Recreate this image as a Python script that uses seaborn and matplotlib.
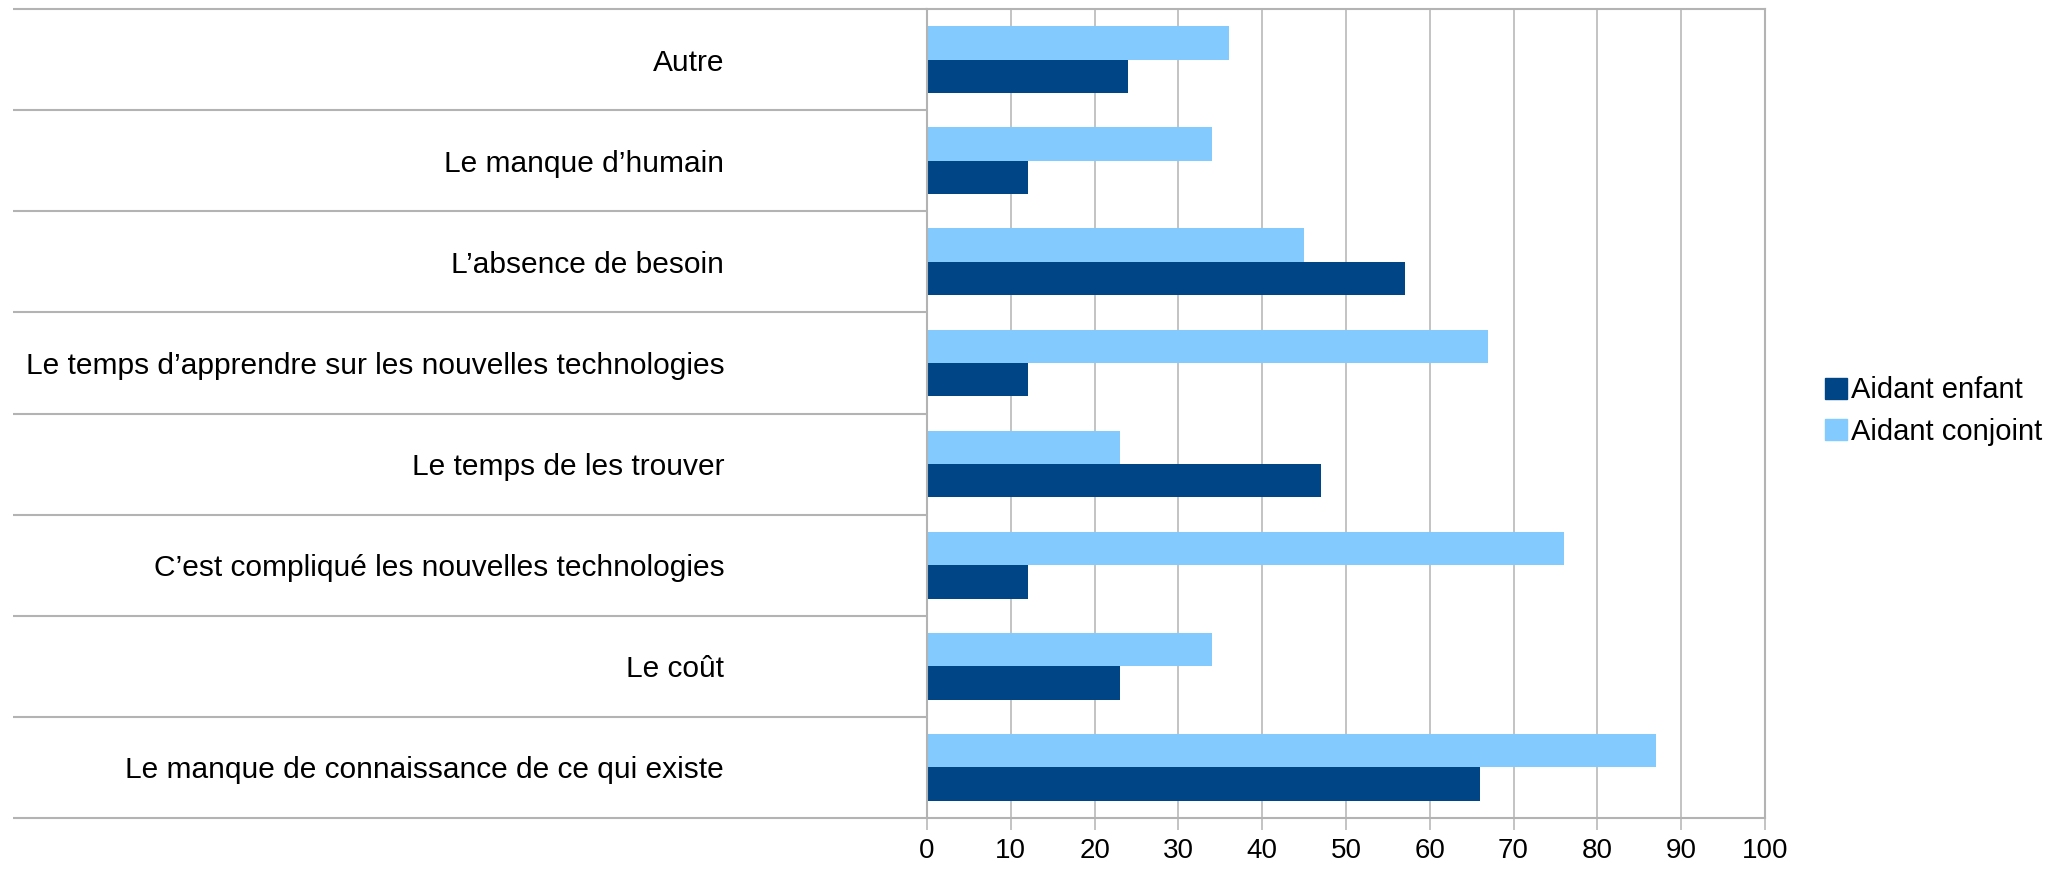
import matplotlib
matplotlib.use("Agg")
import pandas as pd
import matplotlib.pyplot as plt
from matplotlib.patches import Patch
import seaborn as sns

sns.set_style("white")
plt.rcParams['font.family'] = ['Liberation Sans', 'DejaVu Sans']

categories = [
    "Autre",
    "Le manque d\u2019humain",
    "L\u2019absence de besoin",
    "Le temps d\u2019apprendre sur les nouvelles technologies",
    "Le temps de les trouver",
    "C\u2019est compliqué les nouvelles technologies",
    "Le coût",
    "Le manque de connaissance de ce qui existe",
]
aidant_enfant = [24, 12, 57, 12, 47, 12, 23, 66]
aidant_conjoint = [36, 34, 45, 67, 23, 76, 34, 87]
series = ["Aidant enfant", "Aidant conjoint"]
colors = {"Aidant enfant": "#004586", "Aidant conjoint": "#83caff"}
x_ticks = list(range(0, 101, 10))

df = pd.DataFrame({
    "categorie": categories * 2,
    "valeur": aidant_enfant + aidant_conjoint,
    "groupe": [series[0]] * len(categories) + [series[1]] * len(categories),
})

grey = "#b3b3b3"
fig = plt.figure(figsize=(20.65, 8.69), dpi=100)
ax = fig.add_axes([0.4489, 0.0587, 0.8547 - 0.4489, 0.9896 - 0.0587])

# conjoint first so it sits on top inside each group
sns.barplot(data=df, y="categorie", x="valeur", hue="groupe",
            hue_order=[series[1], series[0]], palette=colors, order=categories,
            orient="h", width=0.66, saturation=1, errorbar=None,
            legend=False, linewidth=0, ax=ax)

ax.set_xlim(0, 100)
ax.set_ylim(len(categories) - 0.5, -0.5)
ax.set_xticks(x_ticks)
ax.grid(axis="x", color=grey, lw=1.1)
ax.set_axisbelow(True)
ax.set_xlabel("")
ax.set_ylabel("")

# separators between categories running across the label area
ax.set_yticks([i - 0.5 for i in range(len(categories) + 1)], minor=True)
ax.tick_params(axis="y", which="minor", left=True, length=658, width=1.5, color=grey)
ax.tick_params(axis="y", which="major", left=False, length=0, pad=146,
               labelsize=21.5, labelcolor="black")
ax.tick_params(axis="x", which="major", bottom=True, length=8.6, width=1.1,
               color=grey, labelsize=20, labelcolor="black", pad=6)

for s in ax.spines.values():
    s.set_color(grey)
    s.set_linewidth(1.5)

handles = [Patch(color=colors[s], label=s) for s in series]
fig.legend(handles=handles, loc="center left", bbox_to_anchor=(0.8838, 0.527),
           frameon=False, fontsize=21, handlelength=0.75, handleheight=0.75,
           handletextpad=0.15, labelspacing=0.45, borderpad=0, borderaxespad=0,
           labelcolor="black")

fig.savefig("out.png", dpi=100)
